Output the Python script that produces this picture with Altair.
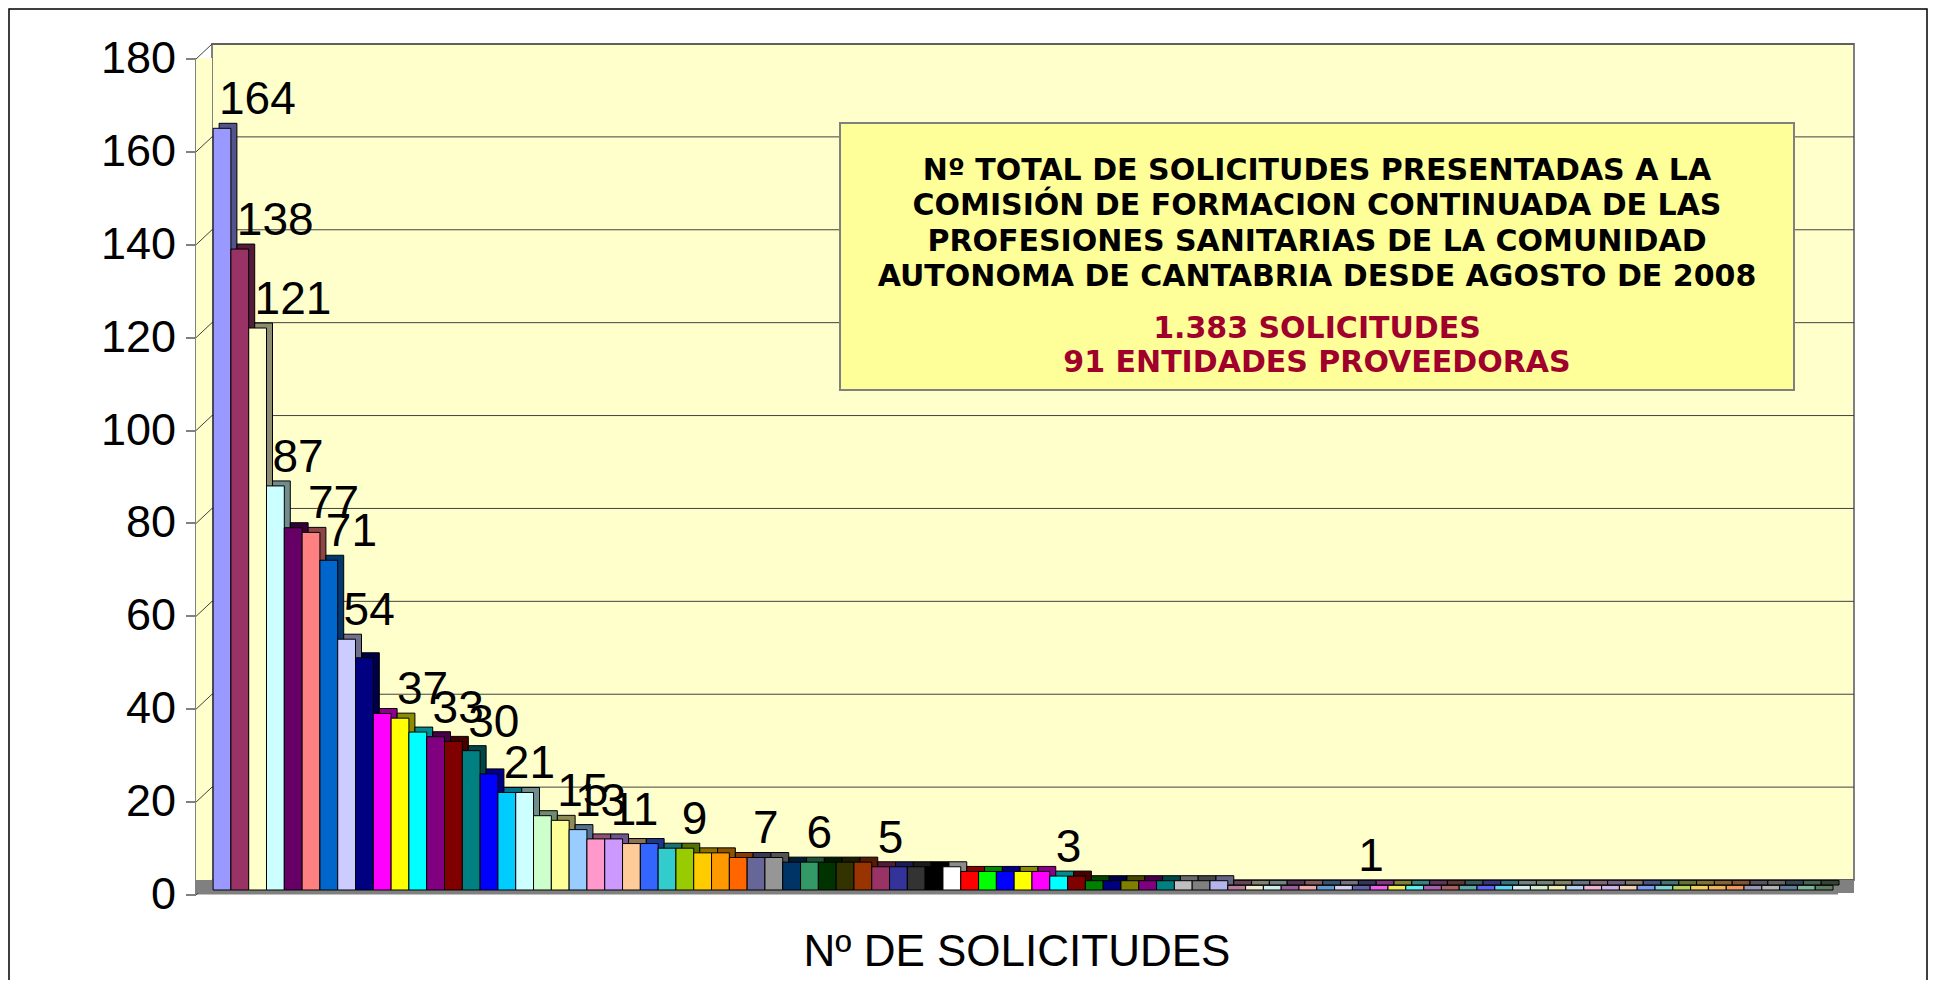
import altair as alt
import pandas as pd

# ---------------- data ----------------
values = [164, 138, 121, 87, 78, 77, 71, 54, 50, 38,
          37, 34, 33, 32, 30, 25, 21, 21, 16, 15,
          13, 11, 11, 10, 10, 9, 9, 8, 8, 7,
          7, 7, 6, 6, 6, 6, 6, 5, 5, 5,
          5, 5, 4, 4, 4, 4, 4, 3, 3, 2,
          2, 2, 2, 2, 2, 2, 2, 1, 1, 1,
          1, 1, 1, 1, 1, 1, 1, 1, 1, 1,
          1, 1, 1, 1, 1, 1, 1, 1, 1, 1,
          1, 1, 1, 1, 1, 1, 1, 1, 1, 1,
          1]
labeled = [1, 2, 3, 4, 6, 7, 8, 11, 13, 15, 17, 20, 21, 23, 27, 31, 34, 38, 48, 65]
tick_values = [0, 20, 40, 60, 80, 100, 120, 140, 160, 180]

box_lines = ["Nº TOTAL DE SOLICITUDES PRESENTADAS A LA",
             "COMISIÓN DE FORMACION CONTINUADA DE LAS",
             "PROFESIONES SANITARIAS DE LA COMUNIDAD",
             "AUTONOMA DE CANTABRIA DESDE AGOSTO DE 2008"]
box_red = ["1.383 SOLICITUDES", "91 ENTIDADES PROVEEDORAS"]
x_title = "Nº DE SOLICITUDES"

# Excel default "vary colors by point" palette
palette = ["#9999FF", "#993366", "#FFFFCC", "#CCFFFF", "#660066", "#FF8080", "#0066CC", "#CCCCFF",
           "#000080", "#FF00FF", "#FFFF00", "#00FFFF", "#800080", "#800000", "#008080", "#0000FF",
           "#00CCFF", "#CCFFFF", "#CCFFCC", "#FFFF99", "#99CCFF", "#FF99CC", "#CC99FF", "#FFCC99",
           "#3366FF", "#33CCCC", "#99CC00", "#FFCC00", "#FF9900", "#FF6600", "#666699", "#969696",
           "#003366", "#339966", "#003300", "#333300", "#993300", "#993366", "#333399", "#333333",
           "#000000", "#FFFFFF", "#FF0000", "#00FF00", "#0000FF", "#FFFF00", "#FF00FF", "#00FFFF",
           "#800000", "#008000", "#000080", "#808000", "#800080", "#008080", "#C0C0C0", "#808080"]


def hex2rgb(h):
    return tuple(int(h[i:i + 2], 16) for i in (1, 3, 5))


def rgb2hex(c):
    return "#%02X%02X%02X" % tuple(max(0, min(255, int(round(v)))) for v in c)


def blend(h, other, t):
    a, b = hex2rgb(h), hex2rgb(other)
    return rgb2hex([a[i] * (1 - t) + b[i] * t for i in range(3)])


def darker(h, f=0.55):
    return rgb2hex([v * f for v in hex2rgb(h)])


n = len(values)
front_cols = []
for i in range(n):
    if i < len(palette):
        front_cols.append(palette[i])
    else:
        front_cols.append(blend(palette[i - len(palette)], "#D8D8D8", 0.45))
side_cols = [darker(c) for c in front_cols]

ids = list(range(1, n + 1))
df = pd.DataFrame({
    "id": ids,
    "v": values,
    "col": front_cols,
    "side": side_cols,
    "lab": [str(v) if (i in labeled) else "" for i, v in zip(ids, values)],
})
ticks_df = pd.DataFrame({"v": tick_values})
one = pd.DataFrame({"a": [0]})

W, H = 1642, 836

xs = alt.Scale(paddingInner=0, paddingOuter=0.62, align=0.05)
ys = alt.Scale(domain=[0, 180], nice=False)

x_axis = alt.Axis(labels=False, ticks=False, domainColor="#808080", domainWidth=3,
                  offset=29, translate=-16, title=x_title, titleFontSize=44,
                  titleFont="Liberation Sans", titleFontWeight="normal",
                  titleColor="black", titlePadding=38)
y_axis = alt.Axis(values=tick_values, offset=31, translate=15, grid=False,
                  domainColor="#808080", domainWidth=2, tickColor="#808080",
                  tickSize=10, tickWidth=2, labelFontSize=45, labelFont="Liberation Sans",
                  labelColor="black", labelPadding=10, title=None)

X = alt.X("id:O", sort=None, scale=xs, axis=x_axis)
Y = alt.Y("v:Q", scale=ys, axis=y_axis)

base = alt.Chart(df)

floor = alt.Chart(one).mark_rect(color="#808080").encode(
    x=alt.value(-16), x2=alt.value(W), y=alt.value(H), y2=alt.value(H + 13))
side_wall = alt.Chart(one).mark_rect(fill="#FFFFCC").encode(
    x=alt.value(-16), x2=alt.value(0), y=alt.value(14), y2=alt.value(H + 13))

grid = alt.Chart(ticks_df).mark_rule(color="#404040", strokeWidth=1).encode(
    y=Y, x=alt.value(0), x2=alt.value(W))
connectors = alt.Chart(ticks_df).mark_rule(color="#404040", strokeWidth=1, yOffset=15, y2Offset=0).encode(
    y=Y, y2="v:Q", x=alt.value(-16), x2=alt.value(0))

back_bars = base.mark_bar(xOffset=6, x2Offset=6, yOffset=5, y2Offset=5,
                          stroke="black", strokeWidth=1).encode(
    x=X, y=Y, color=alt.Color("side:N", scale=None))
front_bars = base.mark_bar(yOffset=10, y2Offset=10, stroke="black", strokeWidth=1).encode(
    x=X, y=Y, color=alt.Color("col:N", scale=None))

labels = base.transform_filter(alt.datum.lab != "").mark_text(
    align="left", baseline="alphabetic", dx=-3, dy=-4, fontSize=46,
    font="Liberation Sans", color="black").encode(x=X, y=Y, text="lab:N")

box = alt.Chart(one).mark_rect(fill="#FFFF99", stroke="#808080", strokeWidth=2).encode(
    x=alt.value(628), x2=alt.value(1582), y=alt.value(79), y2=alt.value(346))
box_text = alt.Chart(one).mark_text(
    align="center", baseline="alphabetic", fontSize=30, font="DejaVu Sans",
    fontWeight="bold", lineHeight=35.3, color="black").encode(
    x=alt.value(1105), y=alt.value(136), text=alt.value(box_lines))
box_text_red = alt.Chart(one).mark_text(
    align="center", baseline="alphabetic", fontSize=30, font="DejaVu Sans",
    fontWeight="bold", lineHeight=34, color="#A0002C").encode(
    x=alt.value(1105), y=alt.value(294), text=alt.value(box_red))

border = alt.Chart(one).mark_rect(filled=False, stroke="black", strokeWidth=1.5).encode(
    x=alt.value(-203), x2=alt.value(1715), y=alt.value(-35), y2=alt.value(1000))

chart = alt.layer(
    side_wall, grid, connectors, floor, back_bars, front_bars, labels,
    box, box_text, box_text_red, border
).resolve_scale(y="shared", x="shared").properties(
    width=W, height=H,
    autosize=alt.AutoSizeParams(type="none"),
    padding={"left": 204, "top": 36, "right": 74, "bottom": 100},
    background="white",
).configure_view(fill="#FFFFCC", stroke="#808080", strokeWidth=2)

chart.save("out.html", embed_options={"renderer": "svg", "actions": False})
